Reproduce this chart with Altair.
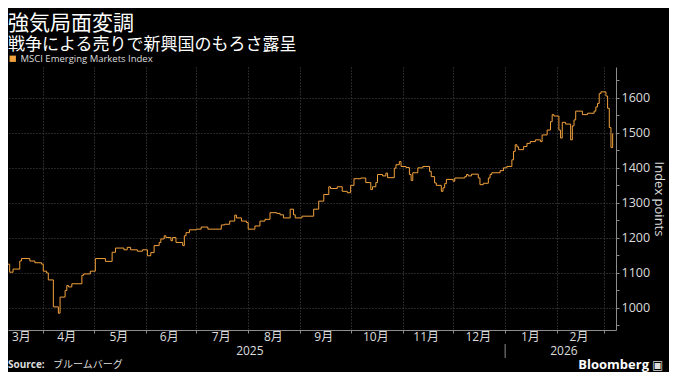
import altair as alt
import pandas as pd

# ---------------- data ----------------
dates = [
    "2025-03-05", "2025-03-07", "2025-03-10", "2025-03-12", "2025-03-14", "2025-03-18",
    "2025-03-19", "2025-03-24", "2025-03-27", "2025-03-31", "2025-04-01", "2025-04-03",
    "2025-04-04", "2025-04-07", "2025-04-10", "2025-04-11", "2025-04-14", "2025-04-15",
    "2025-04-16", "2025-04-18", "2025-04-24", "2025-04-25", "2025-04-29", "2025-05-02",
    "2025-05-08", "2025-05-12", "2025-05-14", "2025-05-19", "2025-05-21", "2025-05-23",
    "2025-05-27", "2025-05-30", "2025-06-02", "2025-06-04", "2025-06-06", "2025-06-09",
    "2025-06-10", "2025-06-12", "2025-06-13", "2025-06-16", "2025-06-17", "2025-06-19",
    "2025-06-23", "2025-06-24", "2025-06-25", "2025-06-27", "2025-07-01", "2025-07-04",
    "2025-07-08", "2025-07-16", "2025-07-18", "2025-07-21", "2025-07-24", "2025-07-25",
    "2025-07-28", "2025-07-31", "2025-08-01", "2025-08-05", "2025-08-08", "2025-08-11",
    "2025-08-14", "2025-08-18", "2025-08-20", "2025-08-22", "2025-08-26", "2025-08-28",
    "2025-08-29", "2025-09-02", "2025-09-09", "2025-09-12", "2025-09-15", "2025-09-18",
    "2025-09-19", "2025-09-23", "2025-09-26", "2025-09-29", "2025-10-01", "2025-10-03",
    "2025-10-07", "2025-10-10", "2025-10-13", "2025-10-14", "2025-10-16", "2025-10-17",
    "2025-10-20", "2025-10-22", "2025-10-23", "2025-10-27", "2025-10-28", "2025-10-30",
    "2025-10-31", "2025-11-03", "2025-11-05", "2025-11-06", "2025-11-07", "2025-11-10",
    "2025-11-13", "2025-11-17", "2025-11-18", "2025-11-20", "2025-11-21", "2025-11-24",
    "2025-11-25", "2025-11-26", "2025-11-27", "2025-12-01", "2025-12-02", "2025-12-08",
    "2025-12-09", "2025-12-10", "2025-12-12", "2025-12-16", "2025-12-17", "2025-12-19",
    "2025-12-22", "2025-12-23", "2025-12-24", "2025-12-29", "2025-12-31", "2026-01-02",
    "2026-01-05", "2026-01-06", "2026-01-07", "2026-01-08", "2026-01-09", "2026-01-12",
    "2026-01-14", "2026-01-16", "2026-01-19", "2026-01-22", "2026-01-23", "2026-01-26",
    "2026-01-28", "2026-01-29", "2026-01-30", "2026-02-02", "2026-02-03", "2026-02-04",
    "2026-02-06", "2026-02-09", "2026-02-10", "2026-02-11", "2026-02-12", "2026-02-16",
    "2026-02-19", "2026-02-23", "2026-02-24", "2026-02-25", "2026-02-26", "2026-02-27",
    "2026-03-02", "2026-03-03", "2026-03-04", "2026-03-05", "2026-03-06",
]
values = [
    1105, 1130, 1125, 1102, 1111, 1134,
    1141, 1134, 1129, 1125, 1105, 1100,
    1080, 1003, 985, 1031, 1050, 1064,
    1060, 1069, 1093, 1097, 1105, 1141,
    1133, 1159, 1171, 1166, 1173, 1166,
    1162, 1166, 1149, 1158, 1178, 1187,
    1197, 1206, 1201, 1192, 1201, 1187,
    1178, 1206, 1215, 1223, 1225, 1231,
    1225, 1237, 1239, 1248, 1265, 1257,
    1248, 1244, 1225, 1234, 1248, 1253,
    1272, 1270, 1266, 1257, 1282, 1266,
    1257, 1262, 1282, 1305, 1324, 1346,
    1341, 1346, 1333, 1329, 1350, 1369,
    1371, 1358, 1338, 1346, 1358, 1381,
    1377, 1385, 1372, 1399, 1409, 1418,
    1404, 1401, 1381, 1364, 1386, 1400,
    1404, 1390, 1375, 1357, 1350, 1333,
    1343, 1355, 1367, 1362, 1371, 1375,
    1381, 1377, 1382, 1371, 1352, 1356,
    1371, 1381, 1386, 1392, 1400, 1404,
    1423, 1447, 1466, 1460, 1452, 1461,
    1470, 1475, 1480, 1475, 1494, 1508,
    1532, 1552, 1548, 1508, 1485, 1530,
    1525, 1480, 1520, 1537, 1562, 1552,
    1556, 1562, 1574, 1584, 1612, 1617,
    1605, 1570, 1515, 1458, 1498,
]
series_name = "MSCI Emerging Markets Index"

month_dates = ["2025-03-19", "2025-04-15", "2025-05-16", "2025-06-15", "2025-07-16",
               "2025-08-16", "2025-09-15", "2025-10-16", "2025-11-15", "2025-12-16",
               "2026-01-16", "2026-02-14"]
month_labels = ["3月", "4月", "5月", "6月", "7月", "8月", "9月", "10月", "11月", "12月", "1月", "2月"]

year_dates = ["2025-08-02", "2026-02-05"]
year_labels = ["2025", "2026"]
year_breaks = ["2026-01-01"]

source_bold = ["Source:"]
source_text = ["ブルームバーグ"]
brand_text = ["Bloomberg"]

# ---------------- styling ----------------
ORANGE = "#F2A23C"
GRID = "#4d4d4d"
AXIS = "#8c8c8c"
LABEL = "#dcdcdc"
FONT = "Open Sans, Noto Sans CJK JP"

W, H = 608, 263

df = pd.DataFrame({"date": dates, "value": values, "series": series_name})
months = pd.DataFrame({"date": month_dates, "label": month_labels})
years = pd.DataFrame({"date": year_dates, "label": year_labels})
breaks = pd.DataFrame({"date": year_breaks})

xscale = alt.Scale(domain=["2025-03-11", "2026-03-08"])
yscale = alt.Scale(domain=[937, 1688], nice=False, zero=False)

line = alt.Chart(df).mark_line(
    interpolate="step-after", strokeWidth=1, clip=True
).encode(
    x=alt.X(
        "date:T",
        scale=xscale,
        title=None,
        axis=alt.Axis(
            tickCount={"interval": "month", "step": 1},
            labels=False,
            grid=True,
            gridColor=GRID,
            gridDash=[1, 2],
            domainColor=AXIS,
            tickColor=AXIS,
            tickSize=3,
        ),
    ),
    y=alt.Y(
        "value:Q",
        scale=yscale,
        title="Index points",
        axis=alt.Axis(
            orient="right",
            values=[950, 1000, 1050, 1100, 1150, 1200, 1250, 1300, 1350, 1400,
                    1450, 1500, 1550, 1600, 1650],
            labelExpr="datum.value % 100 === 0 ? datum.label : ''",
            format="d",
            grid=True,
            gridColor=GRID,
            gridDash=[1, 2],
            gridOpacity={"condition": {"test": "datum.value % 100 === 0", "value": 1}, "value": 0},
            domainColor=AXIS,
            tickColor=AXIS,
            tickSize=3,
            labelColor=LABEL,
            labelFont=FONT,
            labelFontSize=12.5,
            labelPadding=2,
            titleColor=LABEL,
            titleFont=FONT,
            titleFontSize=13,
            titleFontWeight="normal",
            titlePadding=2,
        ),
    ),
    color=alt.Color(
        "series:N",
        scale=alt.Scale(range=[ORANGE]),
        legend=alt.Legend(
            orient="none",
            legendX=0,
            legendY=-13,
            title=None,
            symbolType="square",
            symbolSize=40,
            symbolFillColor=ORANGE,
            symbolStrokeWidth=0,
            labelColor=LABEL,
            labelFont=FONT,
            labelFontSize=9.5,
            labelOffset=3,
            padding=0,
        ),
    ),
)

month_text = alt.Chart(months).mark_text(
    fontSize=12, font=FONT, color=LABEL, baseline="middle", align="center"
).encode(x=alt.X("date:T", scale=xscale), y=alt.value(H + 7), text="label:N")

year_text = alt.Chart(years).mark_text(
    fontSize=12, font=FONT, color=LABEL, baseline="middle", align="center"
).encode(x=alt.X("date:T", scale=xscale), y=alt.value(H + 21), text="label:N")

year_rule = alt.Chart(breaks).mark_rule(color=AXIS, strokeWidth=1).encode(
    x=alt.X("date:T", scale=xscale), y=alt.value(H + 14), y2=alt.value(H + 28)
)

src1 = alt.Chart(pd.DataFrame({"t": source_bold})).mark_text(
    fontSize=10, font=FONT, fontWeight="bold", color=LABEL, align="left", baseline="middle"
).encode(x=alt.value(0), y=alt.value(H + 35), text="t:N")

src2 = alt.Chart(pd.DataFrame({"t": source_text})).mark_text(
    fontSize=10, font="Noto Sans CJK JP", color=LABEL, align="left", baseline="middle"
).encode(x=alt.value(45), y=alt.value(H + 35), text="t:N")

brand = alt.Chart(pd.DataFrame({"t": brand_text})).mark_text(
    fontSize=13, font=FONT, fontWeight="bold", color="#ffffff", align="right", baseline="middle"
).encode(x=alt.value(641), y=alt.value(H + 35), text="t:N")

icon = alt.Chart(pd.DataFrame({"t": ["▣"]})).mark_text(
    fontSize=12, font="DejaVu Sans", color="#dddddd", align="left", baseline="middle"
).encode(x=alt.value(644), y=alt.value(H + 35), text="t:N")

chart = alt.layer(
    line, month_text, year_text, year_rule, src1, src2, brand, icon
).properties(
    width=W,
    height=H,
    padding={"left": 0, "top": 5, "right": 4, "bottom": 0},
    title=alt.TitleParams(
        text="強気局面変調",
        subtitle="戦争による売りで新興国のもろさ露呈",
        anchor="start",
        frame="group",
        font="Noto Sans CJK JP",
        fontSize=21,
        fontWeight="normal",
        color="#ffffff",
        subtitleFont="Noto Sans CJK JP",
        subtitleFontSize=17,
        subtitleColor="#ffffff",
        subtitlePadding=3,
        offset=1,
    ),
).configure(
    background="#000000"
).configure_view(
    stroke=None
)

chart.save("out.html", embed_options={"renderer": "svg", "actions": False})
